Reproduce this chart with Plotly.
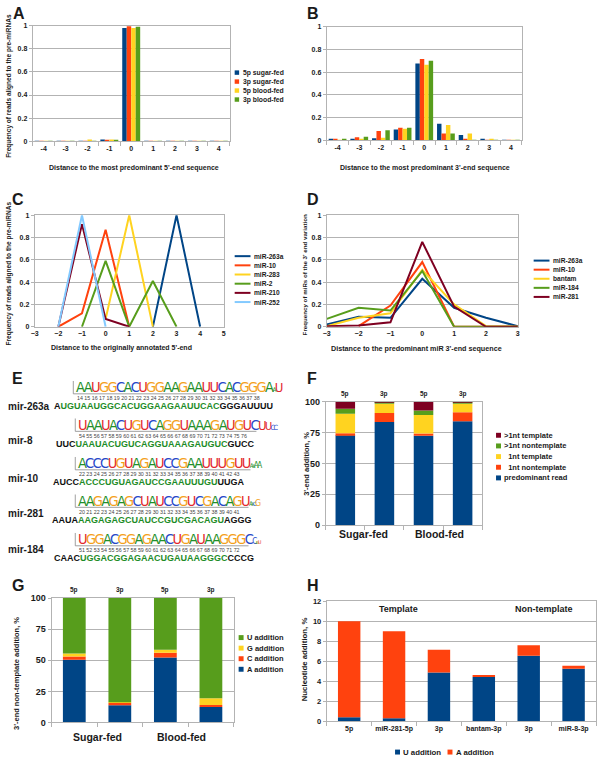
import plotly.graph_objects as go

W, H = 600, 762

# spreadsheet palette used by the original
BLUE, ORANGE, YELLOW, GREEN, DRED, LBLUE = "#004586", "#ff420e", "#ffd320", "#579d1c", "#7e0021", "#83caff"
GRID = "#b3b3b3"
INK = "#1a1a1a"
FONT = "Liberation Sans"

# ---------------- data ----------------
# A / B : distance to the predominant end
shift_labels = ["-4", "-3", "-2", "-1", "0", "1", "2", "3", "4"]
ab_names = ["5p sugar-fed", "3p sugar-fed", "5p blood-fed", "3p blood-fed"]
a_5p_sugar = [0.002, 0.002, 0.003, 0.015, 0.98, 0.003, 0.002, 0.002, 0.002]
a_3p_sugar = [0.001, 0.002, 0.002, 0.005, 0.995, 0.002, 0.002, 0.001, 0.001]
a_5p_blood = [0.002, 0.002, 0.015, 0.015, 0.98, 0.003, 0.002, 0.002, 0.002]
a_3p_blood = [0.001, 0.002, 0.003, 0.005, 0.99, 0.002, 0.002, 0.001, 0.001]
b_5p_sugar = [0.005, 0.005, 0.018, 0.095, 0.675, 0.145, 0.045, 0.005, 0.001]
b_3p_sugar = [0.005, 0.025, 0.08, 0.11, 0.715, 0.06, 0.005, 0.002, 0.001]
b_5p_blood = [0.002, 0.005, 0.022, 0.10, 0.665, 0.135, 0.058, 0.005, 0.001]
b_3p_blood = [0.005, 0.03, 0.088, 0.11, 0.70, 0.058, 0.003, 0.002, 0.001]

# C : distance to the annotated 5' end
c_x = [-3, -2, -1, 0, 1, 2, 3, 4, 5]
c_names = ["miR-263a", "miR-10", "miR-283", "miR-2", "miR-210", "miR-252"]
c_mir263a = [None, None, None, None, None, 0, 1.0, 0, None]
c_mir10 = [None, 0, 0.12, 0.87, 0, None, None, None, None]
c_mir283 = [None, None, None, 0.07, 1.0, 0, None, None, None]
c_mir2 = [None, None, 0, 0.59, 0, 0.41, 0, None, None]
c_mir210 = [None, 0, 0.92, 0.07, 0, None, None, None, None]
c_mir252 = [None, 0, 1.0, 0, None, None, None, None, None]

# D : distance to the predominant 3' end
d_x = [-3, -2, -1, 0, 1, 2, 3]
d_names = ["miR-263a", "miR-10", "bantam", "miR-184", "miR-281"]
d_mir263a = [0.02, 0.09, 0.08, 0.43, 0.17, 0.08, 0.005]
d_mir10 = [None, 0.005, 0.19, 0.58, 0, 0, 0]
d_bantam = [0.005, 0.08, 0.12, 0.51, 0.20, 0.005, 0]
d_mir184 = [0.07, 0.17, 0.145, 0.50, 0, 0, 0]
d_mir281 = [0.005, 0.01, 0.04, 0.76, 0.18, 0, 0]

# E : logos and precursor sequences
e_names = ["mir-263a", "mir-8", "mir-10", "mir-281", "mir-184"]
e_logo = ["AAUGGCACUGGAAGAAUUCACGGGAAU", "UAAUACUGUCAGGUAAAGAUGUCUUCC",
          "ACCCUGUAGAUCCGAAUUUGUUAAAA", "AAGAGAGCUAUCCGUCGACAGUAACG",
          "UGGACGGAGAACUGAUAAGGGCCAGU"]
e_tail = [[0.45, 0.9], [0.9, 0.75, 0.5, 0.5], [0.45, 0.35, 0.55, 0.55],
          [0.45, 0.35, 0.4, 0.6], [0.55, 0.3, 0.3, 0.35]]
e_first = [14, 54, 22, 20, 51]
e_last = [38, 76, 43, 41, 72]
e_left = ["A", "UUC", "AUCC", "AAUA", "CAAC"]
e_core = ["UGUAAUGGCACUGGAAGAAUUCAC", "UAAUACUGUCAGGUAAAGAUGUC", "ACCCUGUAGAUCCGAAUUUGU",
          "AAGAGAGCUAUCCGUCGACAGU", "UGGACGGAGAACUGAUAAGGGC"]
e_right = ["GGGAUUUU", "GUCC", "UUGA", "AGGG", "CCCG"]

# F : 3' end addition
fg_top = ["5p", "3p", "5p", "3p"]
fg_groups = ["Sugar-fed", "Blood-fed"]
f_names = ["predominant read", "\u00a0\u00a01nt nontemplate", "\u00a0\u00a01nt template",
           ">1nt nontemplate", ">1nt template"]
f_predominant = [72.9, 83.6, 72.4, 84.2]
f_1nt_non = [1.6, 7.3, 1.9, 7.2]
f_1nt_tmpl = [15.8, 7.5, 15.0, 7.0]
f_gt1_non = [4.1, 1.1, 3.5, 1.1]
f_gt1_tmpl = [5.6, 0.5, 7.2, 0.5]

# G : non-template nucleotide
g_names = ["A addition", "C addition", "G addition", "U addition"]
g_a = [50.4, 13.8, 52.3, 12.5]
g_c = [2.6, 1.8, 3.7, 1.6]
g_g = [2.4, 0.6, 2.4, 5.3]
g_u = [44.6, 83.8, 41.6, 80.6]

# H : nucleotide addition
h_labels = ["5p", "miR-281-5p", "3p", "bantam-3p", "3p", "miR-8-3p"]
h_u = [0.43, 0.33, 4.87, 4.44, 6.55, 5.26]
h_a = [9.57, 8.65, 2.27, 0.10, 1.05, 0.30]


def dx(a, b):
    return [a / W, b / W]


def dy(top, bottom):
    return [1 - bottom / H, 1 - top / H]


def fnt(size, color=INK, bold=True, family=FONT):
    d = dict(family=family, size=size, color=color)
    if bold:
        d["weight"] = "bold"
    return d


fig = go.Figure()
shapes, notes = [], []

# A and B grouped bars
ab_colors = [BLUE, ORANGE, YELLOW, GREEN]
for xa, ya, series in [("x", "y", [a_5p_sugar, a_3p_sugar, a_5p_blood, a_3p_blood]),
                       ("x2", "y2", [b_5p_sugar, b_3p_sugar, b_5p_blood, b_3p_blood])]:
    w = 0.82 / len(series)
    for i, (vals, col) in enumerate(zip(series, ab_colors)):
        fig.add_trace(go.Bar(x=shift_labels, y=vals, name=ab_names[i], width=w, offset=-0.41 + i * w,
                             marker=dict(color=col, line=dict(width=0)),
                             xaxis=xa, yaxis=ya, showlegend=False))

# C and D lines
c_colors = [BLUE, ORANGE, YELLOW, GREEN, DRED, LBLUE]
for vals, col in zip([c_mir263a, c_mir10, c_mir283, c_mir2, c_mir210, c_mir252], c_colors):
    fig.add_trace(go.Scatter(x=c_x, y=vals, mode="lines", line=dict(color=col, width=2),
                             xaxis="x3", yaxis="y3", showlegend=False))
d_colors = [BLUE, ORANGE, YELLOW, GREEN, DRED]
for vals, col in zip([d_mir263a, d_mir10, d_bantam, d_mir184, d_mir281], d_colors):
    fig.add_trace(go.Scatter(x=d_x, y=vals, mode="lines", line=dict(color=col, width=2),
                             xaxis="x4", yaxis="y4", showlegend=False))

# E sequence logos (axis units are pixels of the panel)
nt_colors = {"A": "#1f8f2a", "C": "#2747c8", "G": "#f4a11c", "U": "#e3262b"}
LOGO_FONT = "Liberation Sans Narrow, DejaVu Sans Condensed, Liberation Sans"
LS = 14.5
logo_x0 = [72, 74, 74, 74, 74]
logo_w = [183, 181, 175, 173, 173]
logo_base = [394, 432, 471, 509, 548]
seq_x0 = [49, 52, 48, 47, 49]
lab_y = [407, 441, 480, 515, 552]
frame_x, frame_y = [], []
for r in range(len(e_names)):
    logo = e_logo[r]
    scale = [1.0] * (len(logo) - len(e_tail[r])) + e_tail[r]
    spans = "".join("<span style='color:%s;font-size:%.1fpx;letter-spacing:-1.6px'>%s</span>"
                    % (nt_colors[ch], LS * s, ch) for ch, s in zip(logo, scale))
    notes.append(dict(text=spans, x=logo_x0[r], y=logo_base[r] + 2.5, xref="x5", yref="y5",
                      xanchor="left", yanchor="bottom", showarrow=False, borderpad=0,
                      font=fnt(LS, bold=False, family=LOGO_FONT)))
    nums = " ".join(str(n) for n in range(e_first[r], e_last[r] + 1))
    notes.append(dict(text=nums, x=logo_x0[r] + 1, y=logo_base[r] + 4.5, xref="x5", yref="y5",
                      xanchor="left", yanchor="middle", showarrow=False, borderpad=0,
                      font=fnt(5.3, color="#444", bold=False)))
    seq = ("<span style='color:#111'>%s</span><span style='color:#1e8c28'>%s</span>"
           "<span style='color:#111'>%s</span>") % (e_left[r], e_core[r], e_right[r])
    notes.append(dict(text=seq, x=seq_x0[r], y=logo_base[r] + 12.5, xref="x5", yref="y5",
                      xanchor="left", yanchor="middle", showarrow=False, borderpad=0, font=fnt(9)))
    x0 = logo_x0[r] - 2
    frame_x += [x0, x0, None, x0, logo_x0[r] + logo_w[r], None]
    frame_y += [logo_base[r] - 13, logo_base[r], None, logo_base[r], logo_base[r], None]
    notes.append(dict(text=e_names[r], x=2, y=lab_y[r], xref="x5", yref="y5", xanchor="left",
                      yanchor="middle", showarrow=False, font=fnt(10)))
fig.add_trace(go.Scatter(x=frame_x, y=frame_y, mode="lines", line=dict(color="#888", width=0.8),
                         xaxis="x5", yaxis="y5", showlegend=False, hoverinfo="skip"))


def stacked(xpos, segs, colors, xa, ya):
    base = [0] * len(xpos)
    for vals, col in zip(segs, colors):
        fig.add_trace(go.Bar(x=xpos, y=vals, base=list(base), width=0.5, offset=-0.25,
                             marker=dict(color=col, line=dict(width=0)),
                             xaxis=xa, yaxis=ya, showlegend=False))
        base = [b + v for b, v in zip(base, vals)]


fg_pos = list(range(len(fg_top)))
f_colors = [BLUE, ORANGE, YELLOW, GREEN, DRED]
stacked(fg_pos, [f_predominant, f_1nt_non, f_1nt_tmpl, f_gt1_non, f_gt1_tmpl], f_colors, "x6", "y6")
g_colors = [BLUE, ORANGE, YELLOW, GREEN]
stacked(fg_pos, [g_a, g_c, g_g, g_u], g_colors, "x7", "y7")
h_pos = list(range(len(h_labels)))
stacked(h_pos, [h_u, h_a], [BLUE, ORANGE], "x8", "y8")


# ---------------- axes ----------------
def yax(dom, anchor, rng, dtick, size=7):
    return dict(domain=dom, anchor=anchor, range=rng, dtick=dtick, showgrid=True, gridcolor=GRID,
                gridwidth=1, zeroline=False, showline=True, linecolor=GRID, linewidth=1, mirror=True,
                ticks="outside", ticklen=3, tickcolor=GRID, tickfont=fnt(size), fixedrange=True)


def xbase(dom, anchor):
    return dict(domain=dom, anchor=anchor, showgrid=False, zeroline=False, showline=True,
                linecolor=GRID, linewidth=1, mirror=True, tickfont=fnt(7), fixedrange=True)


xa = xbase(dx(29, 228), "y")
xa.update(type="category", range=[-0.5, 8.5], tickson="boundaries", ticks="outside", ticklen=4, tickcolor=GRID)
xb = xbase(dx(326, 523), "y2")
xb.update(type="category", range=[-0.5, 8.5], tickson="boundaries", ticks="outside", ticklen=4, tickcolor=GRID)
xc = xbase(dx(31, 222), "y3")
xc.update(range=[-3, 5], dtick=1, ticks="")
xd = xbase(dx(326, 519), "y4")
xd.update(range=[-3, 3], dtick=1, ticks="")
xf = xbase(dx(325, 483), "y6")
xf.update(range=[-0.5, 3.5], tickvals=[-0.5, 0.5, 1.5, 2.5, 3.5], ticks="outside", ticklen=4,
          tickcolor=GRID, showticklabels=False)
xg = xbase(dx(48, 232), "y7")
xg.update(range=[-0.5, 3.5], tickvals=[-0.5, 0.5, 1.5, 2.5, 3.5], ticks="outside", ticklen=4,
          tickcolor=GRID, showticklabels=False)
xh = xbase(dx(326, 598), "y8")
xh.update(range=[-0.5, 5.5], tickvals=h_pos, ticktext=h_labels, ticks="", tickfont=fnt(7),
          minor=dict(tickvals=[p - 0.5 for p in h_pos] + [h_pos[-1] + 0.5], ticks="outside",
                     ticklen=4, tickcolor=GRID))

fig.update_layout(
    xaxis=xa, yaxis=yax(dy(21, 138), "x", [0, 1], 0.2),
    xaxis2=xb, yaxis2=yax(dy(22, 137), "x2", [0, 1], 0.2),
    xaxis3=xc, yaxis3=yax(dy(213, 326), "x3", [0, 1], 0.2),
    xaxis4=xd, yaxis4=yax(dy(213, 326), "x4", [0, 1], 0.2),
    xaxis5=dict(domain=dx(0, 300), anchor="y5", range=[0, 300], visible=False, fixedrange=True),
    yaxis5=dict(domain=dy(365, 585), anchor="x5", range=[585, 365], visible=False, fixedrange=True),
    xaxis6=xf, yaxis6=yax(dy(402, 527), "x6", [0, 100], 25, size=9),
    xaxis7=xg, yaxis7=yax(dy(601, 727), "x7", [0, 100], 25, size=9),
    xaxis8=xh, yaxis8=yax(dy(604, 726), "x8", [0, 12], 2, size=7.5),
)


# ---------------- text ----------------
def note(text, x, y, size, angle=0, anchor="center", color=INK):
    notes.append(dict(text=text, x=x / W, y=1 - y / H, xref="paper", yref="paper", xanchor=anchor,
                      yanchor="middle", showarrow=False, textangle=angle, font=fnt(size, color)))


for letter, x, y in [("A", 15, 9), ("B", 312, 9), ("C", 14, 197), ("D", 312, 197),
                     ("E", 14, 378), ("F", 311, 378), ("G", 14.5, 588), ("H", 312, 588)]:
    note(letter, x, y, 16)

note("Distance to the most predominant 5'-end sequence", 131, 165, 7)
note("Distance to the most predominant 3'-end sequence", 425, 165, 7)
note("Distance to the originally annotated 5'-end", 119, 348, 7)
note("Distance to the predominant miR 3'-end sequence", 417, 348, 7.2)
note("Frequency of reads aligned to the pre-miRNAs", 5, 82, 6.5, angle=-90)
note("Frequency of reads aligned to the pre-miRNAs", 5, 272, 6.5, angle=-90)
note("Frequency of miRs of the 3' end variation", 303, 273, 6.2, angle=-90)
note("3'-end addition, %", 306, 465, 7.5, angle=-90)
note("3'-end non-template addition, %", 12, 677, 7.5, angle=-90)
note("Nucleotide addition, %", 303, 663, 7.8, angle=-90)

for i, t in enumerate(fg_top):
    notes.append(dict(text=t, x=fg_pos[i], y=1 - 394 / H, xref="x6", yref="paper", showarrow=False,
                      font=fnt(6.5), yanchor="middle"))
    notes.append(dict(text=t, x=fg_pos[i], y=1 - 593 / H, xref="x7", yref="paper", showarrow=False,
                      font=fnt(6.5), yanchor="middle"))
for g, xf_, xg_ in zip(fg_groups, [0.46, 2.42], [0.52, 2.36]):
    notes.append(dict(text=g, x=xf_, y=1 - 536 / H, xref="x6", yref="paper", showarrow=False,
                      font=fnt(10.5), yanchor="middle"))
    notes.append(dict(text=g, x=xg_, y=1 - 742 / H, xref="x7", yref="paper", showarrow=False,
                      font=fnt(10.5), yanchor="middle"))
notes.append(dict(text="Template", x=1.1, y=11.2, xref="x8", yref="y8", showarrow=False, font=fnt(9)))
notes.append(dict(text="Non-template", x=4.33, y=11.2, xref="x8", yref="y8", showarrow=False, font=fnt(9)))


# ---------------- hand-made compact legends ----------------
def legend(x0, y0, step, names, colors, kind, size, sw=4.5, ll=16):
    for k, (nm, col) in enumerate(zip(names, colors)):
        yc = y0 + k * step
        if kind == "box":
            shapes.append(dict(type="rect", xref="paper", yref="paper", x0=x0 / W, x1=(x0 + sw) / W,
                               y0=1 - (yc + sw / 2) / H, y1=1 - (yc - sw / 2) / H,
                               fillcolor=col, line=dict(width=0)))
            tx = x0 + sw + 1.5
        else:
            shapes.append(dict(type="line", xref="paper", yref="paper", x0=x0 / W, x1=(x0 + ll) / W,
                               y0=1 - yc / H, y1=1 - yc / H, line=dict(color=col, width=2)))
            tx = x0 + ll + 2
        note(nm, tx, yc, size, anchor="left")


legend(233, 68.5, 9.1, ab_names, ab_colors, "box", 6.8)
legend(233, 254.5, 9.3, c_names, c_colors, "line", 6.6)
legend(535, 259, 9.2, d_names, d_colors, "line", 6.6)
legend(497, 436, 10.8, f_names[::-1], f_colors[::-1], "box", 7.5, sw=5)
legend(237, 641, 10.7, g_names[::-1], g_colors[::-1], "box", 7.5, sw=5)
legend(395, 757, 0, ["U addition"], [BLUE], "box", 7.8, sw=5)
legend(448, 757, 0, ["A addition"], [ORANGE], "box", 7.8, sw=5)

fig.update_layout(
    width=W, height=H, margin=dict(l=0, r=0, t=0, b=0),
    paper_bgcolor="white", plot_bgcolor="white",
    barmode="overlay", showlegend=False,
    shapes=shapes, annotations=notes,
    font=dict(family=FONT, color=INK),
)

# the page's default body margin would push the 600x762 figure off the window
fig.write_html("out.html", config={"displayModeBar": False},
               post_script="document.body.style.margin='0px';")
